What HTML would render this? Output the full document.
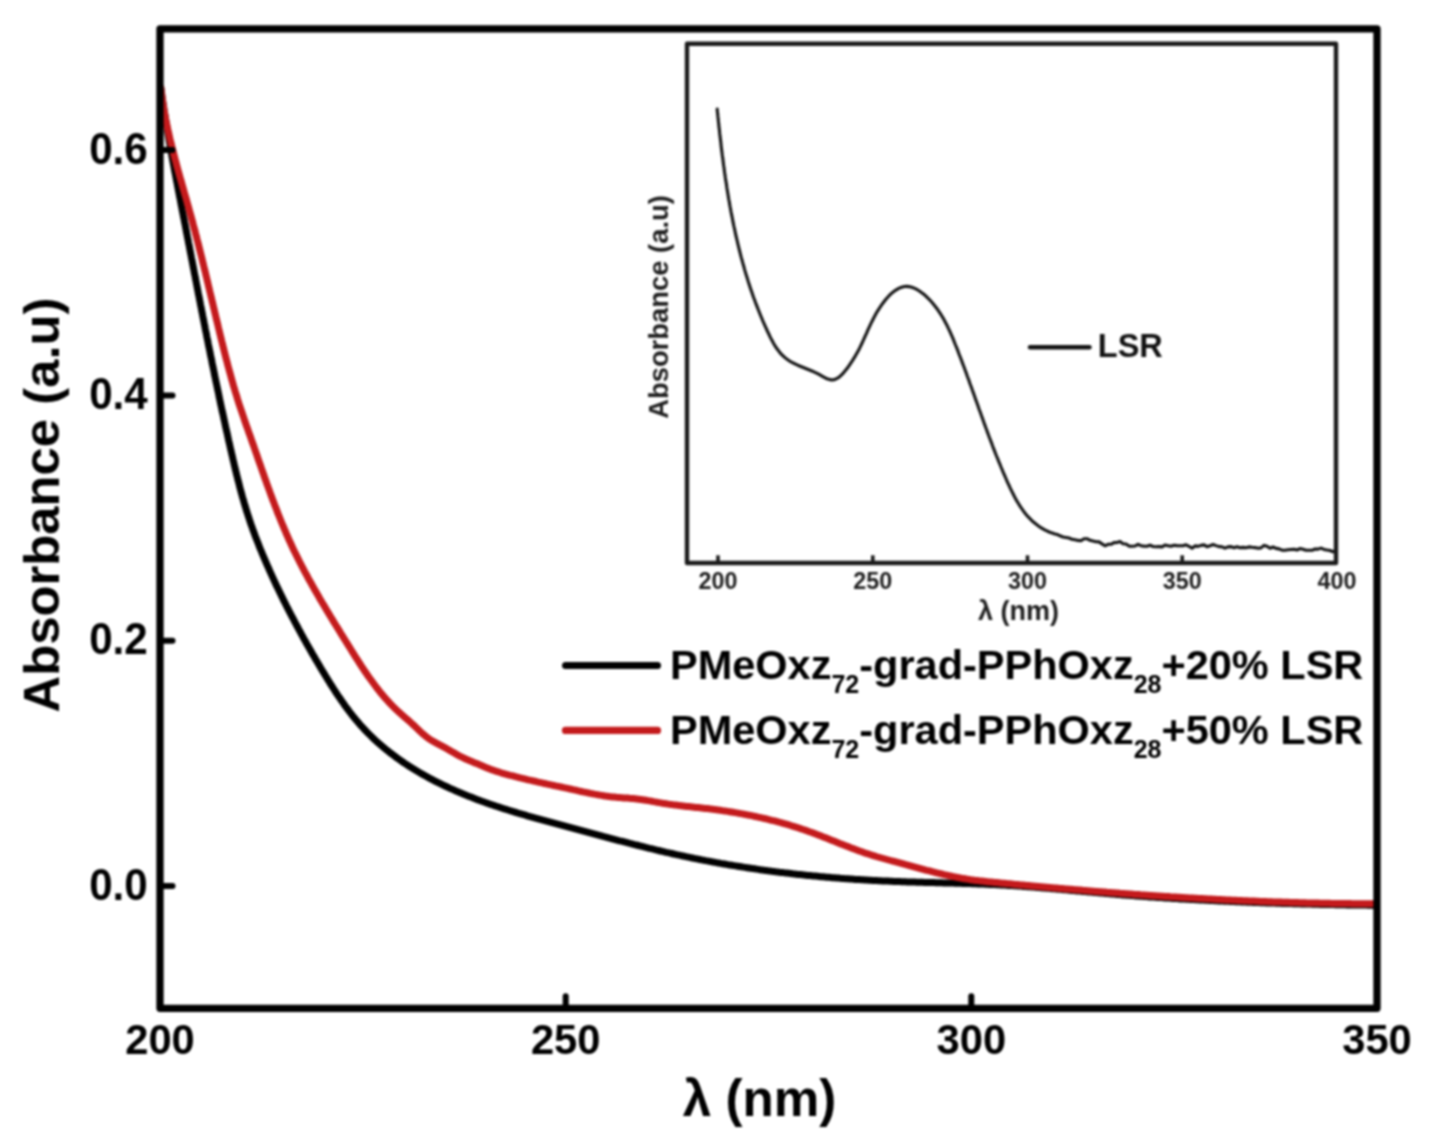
<!DOCTYPE html><html><head><meta charset="utf-8"><style>html,body{margin:0;padding:0;background:#fff;width:1433px;height:1146px;overflow:hidden}svg{display:block;filter:blur(0.9px)}text{font-family:"Liberation Sans",sans-serif;font-weight:bold}</style></head><body>
<svg width="1433" height="1146" viewBox="0 0 1433 1146">
<rect width="1433" height="1146" fill="#fff"/>
<polyline points="160.8,88.0 161.0,89.9 161.3,91.8 161.6,93.7 161.8,95.6 162.1,97.4 162.4,99.3 162.7,101.2 163.0,103.1 163.3,105.0 163.6,106.9 163.8,108.8 164.1,110.7 164.4,112.6 164.8,114.5 165.1,116.4 165.4,118.3 165.7,120.2 166.0,122.1 166.3,123.9 166.6,125.8 166.9,127.7 167.3,129.6 167.6,131.5 167.9,133.4 168.2,135.3 168.6,137.2 168.9,139.1 169.2,140.9 169.6,142.8 169.9,144.7 170.2,146.6 170.6,148.5 170.9,150.4 171.3,152.3 171.6,154.1 171.9,156.0 172.3,157.9 172.6,159.8 173.0,161.7 173.3,163.6 173.7,165.4 174.0,167.3 174.4,169.2 174.7,171.1 175.1,173.0 175.5,174.9 175.8,176.7 176.2,178.6 176.5,180.5 176.9,182.4 177.3,184.3 177.6,186.1 178.0,188.0 178.3,189.9 178.7,191.8 179.1,193.7 179.4,195.6 179.8,197.4 180.2,199.3 180.5,201.2 180.9,203.1 181.2,205.0 181.6,206.8 182.0,208.7 182.3,210.6 182.7,212.5 183.1,214.4 183.4,216.2 183.8,218.1 184.2,220.0 184.5,221.9 184.9,223.8 185.3,225.6 185.6,227.5 186.0,229.4 186.3,231.3 186.7,233.2 187.1,235.1 187.4,236.9 187.8,238.8 188.2,240.7 188.5,242.6 188.9,244.5 189.3,246.3 189.6,248.2 190.0,250.1 190.3,252.0 190.7,253.9 191.1,255.7 191.4,257.6 191.8,259.5 192.2,261.4 192.5,263.3 192.9,265.1 193.2,267.0 193.6,268.9 194.0,270.8 194.3,272.7 194.7,274.5 195.1,276.4 195.4,278.3 195.8,280.2 196.2,282.1 196.5,284.0 196.9,285.8 197.2,287.7 197.6,289.6 198.0,291.5 198.3,293.4 198.7,295.2 199.1,297.1 199.4,299.0 199.8,300.9 200.2,302.8 200.5,304.6 200.9,306.5 201.3,308.4 201.6,310.3 202.0,312.2 202.4,314.0 202.7,315.9 203.1,317.8 203.5,319.7 203.9,321.6 204.2,323.4 204.6,325.3 205.0,327.2 205.3,329.1 205.7,331.0 206.1,332.8 206.5,334.7 206.8,336.6 207.2,338.5 207.6,340.3 208.0,342.2 208.3,344.1 208.7,346.0 209.1,347.9 209.5,349.7 209.9,351.6 210.2,353.5 210.6,355.4 211.0,357.3 211.4,359.1 211.8,361.0 212.1,362.9 212.5,364.8 212.9,366.6 213.3,368.5 213.7,370.4 214.1,372.3 214.4,374.2 214.8,376.0 215.2,377.9 215.6,379.8 216.0,381.7 216.4,383.5 216.8,385.4 217.2,387.3 217.6,389.2 218.0,391.0 218.4,392.9 218.8,394.8 219.1,396.7 219.5,398.5 219.9,400.4 220.3,402.3 220.7,404.2 221.1,406.0 221.5,407.9 221.9,409.8 222.3,411.7 222.8,413.5 223.2,415.4 223.6,417.3 224.0,419.2 224.4,421.0 224.8,422.9 225.2,424.8 225.6,426.7 226.0,428.5 226.4,430.4 226.9,432.3 227.3,434.1 227.7,436.0 228.1,437.9 228.5,439.8 228.9,441.6 229.4,443.5 229.8,445.4 230.2,447.2 230.6,449.1 231.1,451.0 231.5,452.9 231.9,454.7 232.4,456.6 232.8,458.5 233.2,460.3 233.7,462.2 234.1,464.1 234.5,465.9 235.0,467.8 235.4,469.7 235.9,471.5 236.3,473.4 236.8,475.3 237.3,477.1 237.7,479.0 238.2,480.8 238.7,482.7 239.2,484.6 239.6,486.4 240.1,488.3 240.6,490.1 241.1,492.0 241.6,493.8 242.1,495.7 242.6,497.5 243.2,499.3 243.7,501.2 244.2,503.0 244.8,504.9 245.3,506.7 245.9,508.5 246.4,510.4 247.0,512.2 247.6,514.0 248.2,515.8 248.8,517.6 249.4,519.5 250.0,521.3 250.6,523.1 251.2,524.9 251.9,526.7 252.5,528.5 253.1,530.3 253.8,532.1 254.5,533.9 255.1,535.7 255.8,537.5 256.5,539.3 257.2,541.0 257.9,542.8 258.6,544.6 259.3,546.4 260.0,548.2 260.7,549.9 261.5,551.7 262.2,553.5 262.9,555.2 263.7,557.0 264.4,558.8 265.2,560.5 265.9,562.3 266.7,564.0 267.5,565.8 268.3,567.5 269.0,569.3 269.8,571.0 270.6,572.8 271.4,574.5 272.2,576.3 273.0,578.0 273.8,579.8 274.6,581.5 275.4,583.2 276.2,585.0 277.0,586.7 277.9,588.4 278.7,590.1 279.5,591.9 280.4,593.6 281.2,595.3 282.1,597.0 282.9,598.7 283.7,600.5 284.6,602.2 285.5,603.9 286.3,605.6 287.2,607.3 288.1,609.0 288.9,610.7 289.8,612.4 290.7,614.1 291.6,615.8 292.5,617.5 293.4,619.2 294.3,620.9 295.1,622.6 296.1,624.3 297.0,626.0 297.9,627.7 298.8,629.4 299.7,631.0 300.6,632.7 301.5,634.4 302.5,636.1 303.4,637.8 304.3,639.5 305.3,641.1 306.2,642.8 307.1,644.5 308.1,646.1 309.0,647.8 310.0,649.5 310.9,651.2 311.9,652.8 312.8,654.5 313.8,656.1 314.8,657.8 315.7,659.5 316.7,661.1 317.7,662.8 318.7,664.4 319.6,666.1 320.6,667.8 321.6,669.4 322.6,671.1 323.6,672.7 324.6,674.3 325.6,676.0 326.6,677.6 327.6,679.3 328.6,680.9 329.6,682.5 330.6,684.2 331.7,685.8 332.7,687.4 333.7,689.0 334.8,690.7 335.8,692.3 336.9,693.9 337.9,695.5 339.0,697.0 340.1,698.6 341.2,700.2 342.3,701.8 343.4,703.3 344.5,704.9 345.6,706.5 346.7,708.0 347.9,709.5 349.0,711.1 350.2,712.6 351.4,714.1 352.5,715.6 353.7,717.1 354.9,718.5 356.1,720.0 357.4,721.5 358.6,722.9 359.8,724.4 361.1,725.8 362.4,727.2 363.7,728.6 365.0,730.0 366.3,731.4 367.6,732.7 369.0,734.1 370.3,735.4 371.7,736.8 373.0,738.1 374.4,739.4 375.8,740.7 377.2,742.0 378.7,743.2 380.1,744.5 381.6,745.7 383.0,747.0 384.5,748.2 385.9,749.4 387.4,750.6 388.9,751.8 390.4,753.0 392.0,754.1 393.5,755.3 395.0,756.4 396.6,757.6 398.1,758.7 399.7,759.8 401.2,760.9 402.8,762.0 404.4,763.1 406.0,764.1 407.6,765.2 409.2,766.2 410.8,767.2 412.4,768.3 414.1,769.3 415.7,770.3 417.4,771.3 419.0,772.2 420.7,773.2 422.3,774.2 424.0,775.1 425.7,776.0 427.4,777.0 429.0,777.9 430.7,778.8 432.4,779.7 434.1,780.6 435.9,781.5 437.6,782.3 439.3,783.2 441.0,784.0 442.7,784.9 444.5,785.7 446.2,786.5 448.0,787.3 449.7,788.2 451.5,788.9 453.2,789.7 455.0,790.5 456.7,791.3 458.5,792.0 460.3,792.8 462.1,793.5 463.8,794.3 465.6,795.0 467.4,795.7 469.2,796.4 471.0,797.1 472.7,797.8 474.5,798.5 476.3,799.2 478.1,799.9 479.9,800.5 481.7,801.2 483.5,801.8 485.3,802.5 487.1,803.1 488.9,803.7 490.7,804.4 492.6,805.0 494.4,805.6 496.2,806.2 498.0,806.8 499.8,807.4 501.6,808.0 503.5,808.6 505.3,809.2 507.1,809.7 508.9,810.3 510.8,810.9 512.6,811.4 514.4,812.0 516.3,812.5 518.1,813.1 519.9,813.6 521.8,814.2 523.6,814.7 525.4,815.2 527.3,815.8 529.1,816.3 531.0,816.8 532.8,817.3 534.6,817.9 536.5,818.4 538.3,818.9 540.2,819.4 542.0,819.9 543.9,820.4 545.7,820.9 547.6,821.4 549.4,821.9 551.3,822.4 553.1,822.9 555.0,823.4 556.8,823.9 558.7,824.4 560.5,824.9 562.4,825.4 564.2,825.9 566.1,826.4 567.9,826.9 569.8,827.4 571.6,827.9 573.5,828.4 575.3,828.9 577.2,829.4 579.0,829.9 580.9,830.4 582.7,830.9 584.6,831.4 586.4,831.9 588.3,832.4 590.1,832.9 592.0,833.4 593.8,833.9 595.7,834.4 597.5,834.9 599.4,835.4 601.2,835.9 603.1,836.4 604.9,836.8 606.8,837.3 608.6,837.8 610.5,838.3 612.3,838.8 614.2,839.3 616.0,839.8 617.9,840.3 619.7,840.8 621.6,841.2 623.4,841.7 625.3,842.2 627.2,842.7 629.0,843.2 630.9,843.6 632.7,844.1 634.6,844.6 636.4,845.0 638.3,845.5 640.1,846.0 642.0,846.4 643.9,846.9 645.7,847.4 647.6,847.8 649.4,848.3 651.3,848.7 653.2,849.2 655.0,849.6 656.9,850.1 658.7,850.5 660.6,851.0 662.5,851.4 664.3,851.8 666.2,852.3 668.1,852.7 669.9,853.1 671.8,853.5 673.7,854.0 675.5,854.4 677.4,854.8 679.3,855.2 681.1,855.6 683.0,856.0 684.9,856.4 686.8,856.8 688.6,857.2 690.5,857.6 692.4,858.0 694.2,858.4 696.1,858.7 698.0,859.1 699.9,859.5 701.8,859.9 703.6,860.2 705.5,860.6 707.4,860.9 709.3,861.3 711.2,861.6 713.0,862.0 714.9,862.3 716.8,862.7 718.7,863.0 720.6,863.4 722.5,863.7 724.3,864.0 726.2,864.3 728.1,864.7 730.0,865.0 731.9,865.3 733.8,865.6 735.7,865.9 737.6,866.2 739.5,866.5 741.3,866.8 743.2,867.1 745.1,867.4 747.0,867.7 748.9,868.0 750.8,868.3 752.7,868.6 754.6,868.8 756.5,869.1 758.4,869.4 760.3,869.7 762.2,869.9 764.1,870.2 766.0,870.4 767.9,870.7 769.8,870.9 771.7,871.2 773.6,871.4 775.5,871.7 777.4,871.9 779.3,872.2 781.2,872.4 783.1,872.6 785.0,872.9 786.9,873.1 788.8,873.3 790.7,873.5 792.6,873.8 794.5,874.0 796.4,874.2 798.3,874.4 800.2,874.6 802.1,874.8 804.0,875.0 805.9,875.2 807.8,875.4 809.7,875.6 811.6,875.8 813.5,876.0 815.5,876.1 817.4,876.3 819.3,876.5 821.2,876.7 823.1,876.8 825.0,877.0 826.9,877.2 828.8,877.3 830.7,877.5 832.6,877.7 834.5,877.8 836.5,878.0 838.4,878.1 840.3,878.3 842.2,878.4 844.1,878.6 846.0,878.7 847.9,878.8 849.8,879.0 851.7,879.1 853.7,879.2 855.6,879.4 857.5,879.5 859.4,879.6 861.3,879.7 863.2,879.8 865.1,880.0 867.0,880.1 869.0,880.2 870.9,880.3 872.8,880.4 874.7,880.5 876.6,880.6 878.5,880.7 880.4,880.8 882.4,880.9 884.3,881.0 886.2,881.0 888.1,881.1 890.0,881.2 891.9,881.3 893.8,881.4 895.8,881.4 897.7,881.5 899.6,881.6 901.5,881.7 903.4,881.7 905.3,881.8 907.2,881.9 909.1,881.9 911.1,882.0 913.0,882.0 914.9,882.1 916.8,882.2 918.7,882.2 920.6,882.3 922.5,882.3 924.5,882.4 926.4,882.4 928.3,882.5 930.2,882.5 932.1,882.6 934.0,882.6 935.9,882.7 937.9,882.7 939.8,882.8 941.7,882.8 943.6,882.9 945.5,882.9 947.4,883.0 949.3,883.0 951.3,883.1 953.2,883.1 955.1,883.2 957.0,883.2 958.9,883.3 960.8,883.3 962.7,883.4 964.6,883.5 966.6,883.5 968.5,883.6 970.4,883.6 972.3,883.7 974.2,883.8 976.1,883.8 978.0,883.9 979.9,884.0 981.9,884.1 983.8,884.1 985.7,884.2 987.6,884.3 989.5,884.4 991.4,884.5 993.3,884.5 995.2,884.6 997.2,884.7 999.1,884.8 1001.0,884.9 1002.9,885.0 1004.8,885.1 1006.7,885.2 1008.6,885.4 1010.5,885.5 1012.4,885.6 1014.3,885.7 1016.3,885.8 1018.2,886.0 1020.1,886.1 1022.0,886.2 1023.9,886.4 1025.8,886.5 1027.7,886.7 1029.6,886.8 1031.5,886.9 1033.4,887.1 1035.4,887.2 1037.3,887.4 1039.2,887.5 1041.1,887.7 1043.0,887.9 1044.9,888.0 1046.8,888.2 1048.7,888.3 1050.6,888.5 1052.5,888.7 1054.4,888.8 1056.3,889.0 1058.3,889.2 1060.2,889.3 1062.1,889.5 1064.0,889.7 1065.9,889.8 1067.8,890.0 1069.7,890.2 1071.6,890.4 1073.5,890.5 1075.4,890.7 1077.3,890.9 1079.3,891.1 1081.2,891.2 1083.1,891.4 1085.0,891.6 1086.9,891.7 1088.8,891.9 1090.7,892.1 1092.6,892.3 1094.5,892.4 1096.4,892.6 1098.3,892.8 1100.3,892.9 1102.2,893.1 1104.1,893.3 1106.0,893.4 1107.9,893.6 1109.8,893.8 1111.7,893.9 1113.6,894.1 1115.5,894.2 1117.4,894.4 1119.3,894.6 1121.3,894.7 1123.2,894.9 1125.1,895.0 1127.0,895.2 1128.9,895.3 1130.8,895.5 1132.7,895.6 1134.6,895.8 1136.5,895.9 1138.5,896.0 1140.4,896.2 1142.3,896.3 1144.2,896.5 1146.1,896.6 1148.0,896.7 1149.9,896.9 1151.8,897.0 1153.7,897.1 1155.7,897.3 1157.6,897.4 1159.5,897.5 1161.4,897.6 1163.3,897.8 1165.2,897.9 1167.1,898.0 1169.0,898.1 1171.0,898.3 1172.9,898.4 1174.8,898.5 1176.7,898.6 1178.6,898.7 1180.5,898.9 1182.4,899.0 1184.4,899.1 1186.3,899.2 1188.2,899.3 1190.1,899.4 1192.0,899.5 1193.9,899.6 1195.8,899.7 1197.7,899.8 1199.7,899.9 1201.6,900.0 1203.5,900.1 1205.4,900.2 1207.3,900.3 1209.2,900.4 1211.1,900.5 1213.1,900.6 1215.0,900.7 1216.9,900.8 1218.8,900.9 1220.7,901.0 1222.6,901.1 1224.5,901.2 1226.5,901.3 1228.4,901.3 1230.3,901.4 1232.2,901.5 1234.1,901.6 1236.0,901.7 1237.9,901.8 1239.9,901.8 1241.8,901.9 1243.7,902.0 1245.6,902.1 1247.5,902.2 1249.4,902.2 1251.4,902.3 1253.3,902.4 1255.2,902.4 1257.1,902.5 1259.0,902.6 1260.9,902.7 1262.8,902.7 1264.8,902.8 1266.7,902.9 1268.6,902.9 1270.5,903.0 1272.4,903.1 1274.3,903.1 1276.3,903.2 1278.2,903.2 1280.1,903.3 1282.0,903.4 1283.9,903.4 1285.8,903.5 1287.8,903.5 1289.7,903.6 1291.6,903.6 1293.5,903.7 1295.4,903.7 1297.3,903.8 1299.3,903.8 1301.2,903.9 1303.1,903.9 1305.0,904.0 1306.9,904.0 1308.8,904.1 1310.7,904.1 1312.7,904.2 1314.6,904.2 1316.5,904.3 1318.4,904.3 1320.3,904.4 1322.2,904.4 1324.2,904.4 1326.1,904.5 1328.0,904.5 1329.9,904.6 1331.8,904.6 1333.7,904.6 1335.7,904.7 1337.6,904.7 1339.5,904.7 1341.4,904.8 1343.3,904.8 1345.2,904.8 1347.2,904.9 1349.1,904.9 1351.0,904.9 1352.9,904.9 1354.8,905.0 1356.8,905.0 1358.7,905.0 1360.6,905.1 1362.5,905.1 1364.4,905.1 1366.3,905.1 1368.3,905.2 1370.2,905.2 1372.1,905.2 1374.0,905.2" fill="none" stroke="#000" stroke-width="7" stroke-linejoin="round" stroke-linecap="round"/>
<polyline points="160.8,87.9 161.1,89.8 161.3,91.7 161.5,93.5 161.8,95.4 162.0,97.3 162.3,99.1 162.5,101.0 162.8,102.8 163.1,104.7 163.4,106.5 163.7,108.4 164.0,110.2 164.4,112.1 164.7,113.9 165.0,115.8 165.4,117.6 165.7,119.4 166.1,121.3 166.5,123.1 166.9,125.0 167.3,126.8 167.6,128.6 168.0,130.4 168.5,132.3 168.9,134.1 169.3,135.9 169.7,137.8 170.1,139.6 170.6,141.4 171.0,143.2 171.5,145.0 171.9,146.9 172.4,148.7 172.8,150.5 173.3,152.3 173.8,154.1 174.2,155.9 174.7,157.7 175.2,159.6 175.7,161.4 176.2,163.2 176.6,165.0 177.1,166.8 177.6,168.6 178.1,170.4 178.6,172.2 179.1,174.0 179.6,175.8 180.1,177.6 180.6,179.4 181.2,181.2 181.7,183.1 182.2,184.9 182.7,186.7 183.2,188.5 183.7,190.3 184.2,192.1 184.7,193.9 185.2,195.7 185.8,197.5 186.3,199.3 186.8,201.1 187.3,202.9 187.8,204.7 188.3,206.5 188.8,208.3 189.3,210.1 189.8,211.9 190.3,213.7 190.8,215.5 191.3,217.3 191.8,219.2 192.3,221.0 192.8,222.8 193.2,224.6 193.7,226.4 194.2,228.2 194.7,230.0 195.2,231.8 195.6,233.6 196.1,235.5 196.6,237.3 197.0,239.1 197.5,240.9 198.0,242.7 198.4,244.5 198.9,246.3 199.3,248.2 199.8,250.0 200.2,251.8 200.7,253.6 201.2,255.4 201.6,257.2 202.1,259.1 202.5,260.9 202.9,262.7 203.4,264.5 203.8,266.3 204.3,268.2 204.7,270.0 205.2,271.8 205.6,273.6 206.0,275.4 206.5,277.3 206.9,279.1 207.3,280.9 207.8,282.7 208.2,284.5 208.6,286.4 209.1,288.2 209.5,290.0 209.9,291.8 210.4,293.7 210.8,295.5 211.2,297.3 211.7,299.1 212.1,301.0 212.5,302.8 213.0,304.6 213.4,306.4 213.8,308.3 214.3,310.1 214.7,311.9 215.1,313.7 215.6,315.6 216.0,317.4 216.4,319.2 216.9,321.0 217.3,322.9 217.8,324.7 218.2,326.5 218.6,328.3 219.1,330.2 219.5,332.0 219.9,333.8 220.4,335.6 220.8,337.5 221.3,339.3 221.7,341.1 222.2,342.9 222.6,344.8 223.1,346.6 223.5,348.4 224.0,350.2 224.4,352.0 224.9,353.9 225.4,355.7 225.8,357.5 226.3,359.3 226.8,361.1 227.3,363.0 227.7,364.8 228.2,366.6 228.7,368.4 229.2,370.2 229.7,372.0 230.2,373.8 230.7,375.6 231.2,377.5 231.7,379.3 232.2,381.1 232.7,382.9 233.2,384.7 233.7,386.5 234.3,388.3 234.8,390.1 235.3,391.8 235.9,393.6 236.4,395.4 237.0,397.2 237.5,399.0 238.1,400.8 238.6,402.6 239.2,404.3 239.8,406.1 240.4,407.9 241.0,409.7 241.6,411.4 242.2,413.2 242.8,415.0 243.4,416.7 244.0,418.5 244.6,420.3 245.2,422.0 245.8,423.8 246.4,425.5 247.0,427.3 247.7,429.1 248.3,430.8 248.9,432.6 249.5,434.3 250.2,436.1 250.8,437.9 251.4,439.6 252.0,441.4 252.6,443.2 253.3,444.9 253.9,446.7 254.5,448.5 255.1,450.2 255.7,452.0 256.4,453.8 257.0,455.5 257.6,457.3 258.2,459.1 258.8,460.9 259.4,462.6 260.1,464.4 260.7,466.2 261.3,468.0 261.9,469.7 262.5,471.5 263.2,473.3 263.8,475.0 264.4,476.8 265.0,478.6 265.7,480.4 266.3,482.1 266.9,483.9 267.6,485.7 268.2,487.4 268.9,489.2 269.5,491.0 270.1,492.7 270.8,494.5 271.4,496.3 272.1,498.0 272.7,499.8 273.4,501.5 274.1,503.3 274.7,505.0 275.4,506.8 276.1,508.6 276.8,510.3 277.4,512.1 278.1,513.8 278.8,515.5 279.5,517.3 280.2,519.0 280.9,520.8 281.6,522.5 282.3,524.2 283.1,526.0 283.8,527.7 284.5,529.4 285.3,531.1 286.0,532.9 286.7,534.6 287.5,536.3 288.2,538.0 289.0,539.7 289.8,541.4 290.6,543.1 291.3,544.8 292.1,546.5 292.9,548.2 293.7,549.9 294.5,551.6 295.4,553.2 296.2,554.9 297.0,556.6 297.8,558.3 298.7,559.9 299.5,561.6 300.4,563.3 301.2,564.9 302.1,566.6 302.9,568.2 303.8,569.9 304.7,571.6 305.6,573.2 306.5,574.8 307.4,576.5 308.2,578.1 309.1,579.8 310.0,581.4 311.0,583.0 311.9,584.7 312.8,586.3 313.7,587.9 314.6,589.6 315.6,591.2 316.5,592.8 317.4,594.4 318.4,596.0 319.3,597.7 320.2,599.3 321.2,600.9 322.1,602.5 323.1,604.1 324.1,605.7 325.0,607.3 326.0,609.0 326.9,610.6 327.9,612.2 328.9,613.8 329.8,615.4 330.8,617.0 331.8,618.6 332.8,620.2 333.7,621.8 334.7,623.4 335.7,625.0 336.7,626.6 337.7,628.2 338.7,629.8 339.7,631.4 340.6,633.0 341.6,634.6 342.6,636.2 343.6,637.8 344.6,639.4 345.6,641.0 346.6,642.6 347.6,644.2 348.6,645.8 349.6,647.4 350.6,649.0 351.5,650.5 352.5,652.1 353.5,653.7 354.5,655.3 355.5,656.9 356.5,658.5 357.6,660.1 358.6,661.7 359.6,663.3 360.6,664.8 361.6,666.4 362.7,668.0 363.7,669.5 364.7,671.1 365.8,672.6 366.9,674.2 367.9,675.7 369.0,677.3 370.1,678.8 371.2,680.3 372.3,681.8 373.4,683.3 374.5,684.8 375.6,686.3 376.7,687.8 377.9,689.3 379.0,690.7 380.2,692.2 381.4,693.6 382.6,695.0 383.8,696.5 385.0,697.9 386.2,699.3 387.5,700.6 388.7,702.0 390.0,703.4 391.3,704.7 392.6,706.1 393.9,707.4 395.3,708.7 396.6,710.0 398.0,711.3 399.4,712.5 400.8,713.8 402.2,715.0 403.6,716.3 405.0,717.5 406.4,718.8 407.9,720.0 409.3,721.2 410.7,722.5 412.1,723.8 413.5,725.0 414.8,726.3 416.2,727.6 417.5,728.9 418.9,730.2 420.2,731.5 421.6,732.8 423.0,734.0 424.4,735.2 425.8,736.4 427.3,737.5 428.8,738.6 430.3,739.6 431.9,740.6 433.5,741.5 435.1,742.4 436.7,743.3 438.4,744.2 440.1,745.1 441.7,745.9 443.4,746.8 445.0,747.7 446.7,748.6 448.3,749.6 449.9,750.5 451.5,751.5 453.2,752.4 454.8,753.3 456.4,754.3 458.1,755.2 459.7,756.1 461.4,756.9 463.0,757.7 464.7,758.5 466.4,759.3 468.1,760.0 469.9,760.7 471.6,761.4 473.3,762.2 475.0,762.9 476.8,763.6 478.5,764.3 480.2,765.0 481.9,765.7 483.6,766.5 485.4,767.2 487.1,767.9 488.8,768.6 490.5,769.2 492.3,769.9 494.0,770.5 495.8,771.1 497.6,771.7 499.3,772.2 501.1,772.8 502.9,773.3 504.7,773.8 506.5,774.3 508.3,774.8 510.1,775.3 511.9,775.7 513.7,776.2 515.5,776.7 517.3,777.1 519.2,777.6 521.0,778.0 522.8,778.5 524.6,778.9 526.4,779.3 528.2,779.8 530.0,780.2 531.9,780.6 533.7,781.0 535.5,781.4 537.3,781.9 539.2,782.3 541.0,782.7 542.8,783.1 544.6,783.5 546.5,783.9 548.3,784.3 550.1,784.7 552.0,785.1 553.8,785.5 555.6,785.9 557.4,786.2 559.3,786.6 561.1,787.0 562.9,787.4 564.8,787.8 566.6,788.2 568.5,788.6 570.3,789.0 572.1,789.4 574.0,789.8 575.8,790.2 577.6,790.7 579.5,791.1 581.3,791.5 583.1,791.9 585.0,792.2 586.8,792.6 588.7,793.0 590.5,793.4 592.3,793.7 594.2,794.1 596.0,794.4 597.9,794.8 599.7,795.1 601.6,795.4 603.4,795.7 605.3,796.0 607.1,796.2 609.0,796.5 610.8,796.7 612.7,796.9 614.5,797.1 616.4,797.3 618.3,797.4 620.1,797.6 622.0,797.7 623.9,797.9 625.7,798.0 627.6,798.1 629.4,798.3 631.3,798.4 633.2,798.6 635.0,798.8 636.9,799.0 638.7,799.2 640.6,799.4 642.4,799.7 644.3,800.0 646.1,800.3 647.9,800.6 649.8,800.9 651.6,801.2 653.5,801.6 655.3,801.9 657.1,802.3 659.0,802.6 660.8,802.9 662.7,803.3 664.5,803.6 666.3,803.8 668.2,804.1 670.0,804.4 671.9,804.6 673.8,804.9 675.6,805.1 677.5,805.3 679.3,805.6 681.2,805.8 683.0,806.0 684.9,806.2 686.8,806.4 688.6,806.6 690.5,806.8 692.4,807.0 694.2,807.2 696.1,807.4 698.0,807.6 699.8,807.8 701.7,808.0 703.5,808.2 705.4,808.4 707.3,808.6 709.1,808.8 711.0,809.1 712.8,809.3 714.7,809.6 716.6,809.8 718.4,810.1 720.3,810.3 722.1,810.6 724.0,810.9 725.8,811.1 727.7,811.4 729.5,811.7 731.4,812.0 733.2,812.3 735.1,812.6 736.9,812.9 738.8,813.3 740.6,813.6 742.5,813.9 744.3,814.3 746.1,814.6 748.0,815.0 749.8,815.3 751.7,815.7 753.5,816.1 755.3,816.5 757.2,816.9 759.0,817.3 760.8,817.7 762.6,818.1 764.5,818.5 766.3,818.9 768.1,819.4 769.9,819.8 771.7,820.3 773.5,820.7 775.4,821.2 777.2,821.7 779.0,822.2 780.8,822.6 782.6,823.1 784.4,823.7 786.2,824.2 788.0,824.7 789.8,825.2 791.6,825.8 793.4,826.3 795.1,826.9 796.9,827.4 798.7,828.0 800.5,828.6 802.3,829.2 804.0,829.8 805.8,830.4 807.6,831.0 809.3,831.7 811.1,832.3 812.9,832.9 814.6,833.6 816.4,834.3 818.1,834.9 819.9,835.6 821.6,836.3 823.4,837.0 825.1,837.6 826.9,838.3 828.6,839.0 830.4,839.7 832.1,840.4 833.9,841.1 835.6,841.8 837.3,842.5 839.1,843.2 840.8,843.9 842.6,844.6 844.3,845.3 846.1,845.9 847.8,846.6 849.6,847.3 851.3,848.0 853.1,848.6 854.8,849.3 856.6,849.9 858.3,850.6 860.1,851.2 861.9,851.8 863.6,852.5 865.4,853.1 867.2,853.7 869.0,854.2 870.7,854.8 872.5,855.4 874.3,855.9 876.1,856.5 877.9,857.0 879.7,857.5 881.5,858.0 883.3,858.5 885.1,859.0 886.9,859.5 888.7,860.0 890.5,860.5 892.3,861.0 894.1,861.4 895.9,861.9 897.8,862.4 899.6,862.9 901.4,863.4 903.2,863.9 905.0,864.4 906.8,864.8 908.6,865.3 910.4,865.8 912.2,866.3 914.0,866.8 915.9,867.3 917.7,867.8 919.5,868.3 921.3,868.8 923.1,869.3 924.9,869.8 926.7,870.3 928.5,870.7 930.3,871.2 932.2,871.7 934.0,872.1 935.8,872.6 937.6,873.0 939.4,873.5 941.3,873.9 943.1,874.4 944.9,874.8 946.7,875.2 948.6,875.6 950.4,876.0 952.2,876.4 954.0,876.8 955.9,877.1 957.7,877.5 959.6,877.8 961.4,878.2 963.2,878.5 965.1,878.8 966.9,879.1 968.8,879.4 970.6,879.7 972.5,879.9 974.3,880.2 976.2,880.4 978.0,880.6 979.9,880.9 981.8,881.1 983.6,881.3 985.5,881.5 987.3,881.7 989.2,881.9 991.1,882.1 992.9,882.3 994.8,882.5 996.7,882.6 998.5,882.8 1000.4,883.0 1002.3,883.2 1004.1,883.3 1006.0,883.5 1007.9,883.7 1009.7,883.8 1011.6,884.0 1013.5,884.2 1015.3,884.4 1017.2,884.5 1019.1,884.7 1020.9,884.9 1022.8,885.0 1024.7,885.2 1026.5,885.4 1028.4,885.5 1030.3,885.7 1032.1,885.9 1034.0,886.1 1035.9,886.2 1037.7,886.4 1039.6,886.6 1041.5,886.7 1043.3,886.9 1045.2,887.1 1047.1,887.2 1048.9,887.4 1050.8,887.6 1052.7,887.7 1054.5,887.9 1056.4,888.0 1058.3,888.2 1060.1,888.4 1062.0,888.5 1063.9,888.7 1065.7,888.9 1067.6,889.0 1069.5,889.2 1071.3,889.3 1073.2,889.5 1075.1,889.7 1076.9,889.8 1078.8,890.0 1080.7,890.1 1082.5,890.3 1084.4,890.4 1086.3,890.6 1088.1,890.7 1090.0,890.9 1091.9,891.1 1093.7,891.2 1095.6,891.4 1097.5,891.5 1099.3,891.7 1101.2,891.8 1103.1,892.0 1104.9,892.1 1106.8,892.3 1108.7,892.4 1110.5,892.5 1112.4,892.7 1114.3,892.8 1116.1,893.0 1118.0,893.1 1119.9,893.3 1121.7,893.4 1123.6,893.5 1125.5,893.7 1127.3,893.8 1129.2,894.0 1131.1,894.1 1132.9,894.2 1134.8,894.4 1136.7,894.5 1138.6,894.6 1140.4,894.8 1142.3,894.9 1144.2,895.0 1146.0,895.2 1147.9,895.3 1149.8,895.4 1151.6,895.5 1153.5,895.7 1155.4,895.8 1157.2,895.9 1159.1,896.0 1161.0,896.2 1162.9,896.3 1164.7,896.4 1166.6,896.5 1168.5,896.6 1170.3,896.8 1172.2,896.9 1174.1,897.0 1175.9,897.1 1177.8,897.2 1179.7,897.3 1181.6,897.5 1183.4,897.6 1185.3,897.7 1187.2,897.8 1189.0,897.9 1190.9,898.0 1192.8,898.1 1194.7,898.2 1196.5,898.3 1198.4,898.4 1200.3,898.5 1202.1,898.6 1204.0,898.7 1205.9,898.8 1207.8,898.9 1209.6,899.0 1211.5,899.1 1213.4,899.2 1215.2,899.3 1217.1,899.4 1219.0,899.5 1220.9,899.6 1222.7,899.7 1224.6,899.8 1226.5,899.9 1228.3,900.0 1230.2,900.1 1232.1,900.2 1234.0,900.3 1235.8,900.3 1237.7,900.4 1239.6,900.5 1241.5,900.6 1243.3,900.7 1245.2,900.8 1247.1,900.8 1248.9,900.9 1250.8,901.0 1252.7,901.1 1254.6,901.1 1256.4,901.2 1258.3,901.3 1260.2,901.4 1262.1,901.4 1263.9,901.5 1265.8,901.6 1267.7,901.7 1269.6,901.7 1271.4,901.8 1273.3,901.9 1275.2,901.9 1277.0,902.0 1278.9,902.0 1280.8,902.1 1282.7,902.2 1284.5,902.2 1286.4,902.3 1288.3,902.3 1290.2,902.4 1292.0,902.5 1293.9,902.5 1295.8,902.6 1297.7,902.6 1299.5,902.7 1301.4,902.7 1303.3,902.8 1305.2,902.8 1307.0,902.9 1308.9,902.9 1310.8,903.0 1312.6,903.0 1314.5,903.0 1316.4,903.1 1318.3,903.1 1320.1,903.2 1322.0,903.2 1323.9,903.2 1325.8,903.3 1327.6,903.3 1329.5,903.3 1331.4,903.4 1333.3,903.4 1335.1,903.4 1337.0,903.5 1338.9,903.5 1340.8,903.5 1342.6,903.6 1344.5,903.6 1346.4,903.6 1348.3,903.6 1350.1,903.6 1352.0,903.7 1353.9,903.7 1355.8,903.7 1357.6,903.7 1359.5,903.7 1361.4,903.8 1363.3,903.8 1365.1,903.8 1367.0,903.8 1368.9,903.8 1370.8,903.8 1372.6,903.8 1374.5,903.8" fill="none" stroke="#c41a1c" stroke-width="7" stroke-linejoin="round" stroke-linecap="round"/>
<rect x="160" y="28.8" width="1217" height="979.5" fill="none" stroke="#000" stroke-width="7.3" stroke-linejoin="round"/>
<line x1="565.7" y1="1008.3" x2="565.7" y2="996.3" stroke="#000" stroke-width="6" stroke-linecap="round"/>
<line x1="971.3" y1="1008.3" x2="971.3" y2="996.3" stroke="#000" stroke-width="6" stroke-linecap="round"/>
<line x1="160" y1="886.0" x2="172.5" y2="886.0" stroke="#000" stroke-width="6" stroke-linecap="round"/>
<line x1="160" y1="640.7" x2="172.5" y2="640.7" stroke="#000" stroke-width="6" stroke-linecap="round"/>
<line x1="160" y1="395.4" x2="172.5" y2="395.4" stroke="#000" stroke-width="6" stroke-linecap="round"/>
<line x1="160" y1="150.1" x2="172.5" y2="150.1" stroke="#000" stroke-width="6" stroke-linecap="round"/>
<text transform="translate(160.0,1053.8) scale(0.97,1)" font-size="43" text-anchor="middle">200</text>
<text transform="translate(565.7,1053.8) scale(0.97,1)" font-size="43" text-anchor="middle">250</text>
<text transform="translate(971.3,1053.8) scale(0.97,1)" font-size="43" text-anchor="middle">300</text>
<text transform="translate(1377.0,1053.8) scale(0.97,1)" font-size="43" text-anchor="middle">350</text>
<text transform="translate(147.8,899.5) scale(0.97,1)" font-size="43.5" text-anchor="end">0.0</text>
<text transform="translate(147.8,654.2) scale(0.97,1)" font-size="43.5" text-anchor="end">0.2</text>
<text transform="translate(147.8,408.9) scale(0.97,1)" font-size="43.5" text-anchor="end">0.4</text>
<text transform="translate(147.8,163.6) scale(0.97,1)" font-size="43.5" text-anchor="end">0.6</text>
<text transform="translate(58.8,505) rotate(-90)" font-size="50.8" text-anchor="middle">Absorbance (a.u)</text>
<text x="759.5" y="1115.5" font-size="51.2" text-anchor="middle">&#955; (nm)</text>
<line x1="565.5" y1="665.6" x2="657.5" y2="665.6" stroke="#000" stroke-width="7" stroke-linecap="round"/>
<line x1="565.5" y1="730.4" x2="657.5" y2="730.4" stroke="#c41a1c" stroke-width="7.2" stroke-linecap="round"/>
<text x="670" y="679.3" font-size="41.5">PMeOxz<tspan font-size="25" dy="14">72</tspan><tspan dy="-14">-grad-PPhOxz</tspan><tspan font-size="25" dy="14">28</tspan><tspan dy="-14">+20% LSR</tspan></text>
<text x="670" y="743.8" font-size="41.5">PMeOxz<tspan font-size="25" dy="14">72</tspan><tspan dy="-14">-grad-PPhOxz</tspan><tspan font-size="25" dy="14">28</tspan><tspan dy="-14">+50% LSR</tspan></text>
<polyline points="717.2,109.1 717.4,111.5 717.7,113.9 717.9,116.4 718.2,118.8 718.4,121.2 718.7,123.6 718.9,126.1 719.2,128.5 719.5,130.9 719.7,133.4 720.0,135.8 720.3,138.3 720.6,140.7 720.9,143.1 721.1,145.6 721.4,148.0 721.7,150.5 722.0,152.9 722.3,155.4 722.7,157.8 723.0,160.3 723.3,162.7 723.6,165.2 724.0,167.6 724.3,170.1 724.6,172.5 725.0,175.0 725.3,177.4 725.7,179.9 726.1,182.3 726.5,184.8 726.8,187.2 727.2,189.7 727.6,192.1 728.0,194.6 728.4,197.0 728.8,199.5 729.3,201.9 729.7,204.4 730.1,206.8 730.6,209.3 731.0,211.7 731.5,214.1 732.0,216.6 732.5,219.0 732.9,221.4 733.4,223.9 733.9,226.3 734.5,228.7 735.0,231.2 735.5,233.6 736.0,236.0 736.6,238.4 737.2,240.8 737.7,243.2 738.3,245.7 738.9,248.1 739.5,250.5 740.1,252.9 740.7,255.3 741.3,257.6 742.0,260.0 742.6,262.4 743.3,264.8 744.0,267.2 744.6,269.6 745.3,271.9 746.0,274.3 746.8,276.7 747.5,279.0 748.2,281.4 749.0,283.7 749.7,286.1 750.5,288.4 751.3,290.7 752.1,293.1 752.9,295.4 753.7,297.7 754.6,300.0 755.4,302.3 756.3,304.6 757.2,306.9 758.1,309.2 759.0,311.5 759.9,313.8 760.8,316.0 761.8,318.3 762.7,320.6 763.7,322.8 764.7,325.1 765.7,327.3 766.7,329.5 767.7,331.8 768.8,334.0 769.8,336.2 770.9,338.4 772.1,340.6 773.2,342.7 774.4,344.8 775.7,346.8 777.0,348.8 778.5,350.7 779.9,352.6 781.5,354.4 783.2,356.0 785.0,357.6 786.8,359.1 788.8,360.5 791.0,361.8 793.2,363.0 795.5,364.1 797.8,365.2 800.2,366.2 802.7,367.2 805.2,368.2 807.6,369.2 810.1,370.2 812.5,371.2 814.9,372.3 817.2,373.4 819.5,374.7 821.6,375.9 823.8,377.1 825.8,378.2 827.9,379.0 829.9,379.6 831.9,379.9 833.9,379.7 835.9,379.0 837.9,377.9 839.9,376.4 841.8,374.6 843.7,372.6 845.6,370.3 847.4,368.0 849.1,365.7 850.6,363.4 852.1,361.2 853.5,358.9 854.9,356.7 856.1,354.6 857.3,352.4 858.5,350.3 859.6,348.2 860.6,346.1 861.6,344.0 862.6,341.8 863.6,339.7 864.5,337.6 865.5,335.4 866.5,333.3 867.4,331.1 868.4,328.9 869.4,326.8 870.4,324.6 871.5,322.4 872.6,320.2 873.7,318.0 874.9,315.8 876.1,313.5 877.4,311.3 878.8,309.1 880.3,306.9 881.8,304.7 883.4,302.5 885.1,300.3 886.8,298.2 888.6,296.3 890.4,294.4 892.3,292.7 894.3,291.1 896.3,289.8 898.3,288.6 900.3,287.7 902.4,287.0 904.5,286.5 906.6,286.4 908.8,286.6 910.9,287.0 913.1,287.7 915.2,288.6 917.3,289.7 919.4,291.0 921.4,292.5 923.5,294.0 925.4,295.7 927.3,297.5 929.2,299.4 931.0,301.3 932.7,303.2 934.3,305.2 935.9,307.2 937.4,309.2 938.8,311.3 940.2,313.4 941.5,315.5 942.8,317.6 944.0,319.8 945.2,322.0 946.4,324.2 947.5,326.4 948.5,328.6 949.6,330.8 950.6,333.1 951.6,335.4 952.6,337.6 953.5,339.9 954.4,342.2 955.3,344.5 956.3,346.8 957.2,349.1 958.1,351.4 958.9,353.7 959.8,356.0 960.7,358.3 961.6,360.6 962.4,362.9 963.3,365.2 964.2,367.5 965.0,369.8 965.9,372.1 966.7,374.4 967.5,376.7 968.4,379.0 969.2,381.3 970.0,383.7 970.9,386.0 971.7,388.3 972.5,390.6 973.4,392.9 974.2,395.2 975.0,397.6 975.8,399.9 976.7,402.2 977.5,404.5 978.3,406.8 979.1,409.2 980.0,411.5 980.8,413.8 981.6,416.1 982.5,418.4 983.3,420.8 984.1,423.1 985.0,425.4 985.8,427.7 986.7,430.0 987.5,432.4 988.4,434.7 989.2,437.0 990.1,439.3 991.0,441.6 991.9,443.9 992.7,446.2 993.6,448.6 994.5,450.9 995.4,453.2 996.3,455.5 997.3,457.8 998.2,460.1 999.1,462.4 1000.1,464.7 1001.0,467.0 1002.0,469.3 1002.9,471.6 1003.9,473.9 1004.9,476.2 1005.9,478.5 1006.9,480.8 1007.9,483.1 1009.0,485.3 1010.0,487.6 1011.1,489.9 1012.2,492.1 1013.3,494.3 1014.4,496.5 1015.6,498.7 1016.8,500.9 1018.1,503.0 1019.4,505.1 1020.7,507.1 1022.1,509.1 1023.5,511.1 1024.9,513.0 1026.5,514.9 1028.0,516.7 1029.7,518.4 1031.4,520.1 1033.1,521.8 1035.0,523.3 1036.9,524.8 1038.8,526.2 1040.9,527.6 1043.0,528.9 1045.2,530.1 1047.5,531.2 1049.9,532.2 1052.3,533.1 1054.9,533.9 1057.5,534.6 1060.0,535.8 1063.0,537.0 1066.0,537.5 1069.0,538.0 1072.0,539.3 1075.0,539.8 1078.0,540.4 1081.0,540.7 1084.0,538.8 1087.0,538.7 1090.0,540.3 1093.0,541.1 1096.0,541.8 1099.0,541.9 1102.0,543.9 1105.0,545.8 1108.0,544.3 1111.0,544.3 1114.0,542.6 1117.0,542.5 1120.0,541.6 1123.0,543.7 1126.0,544.0 1129.0,546.1 1132.0,546.2 1135.0,546.0 1138.0,544.3 1141.0,545.7 1144.0,546.1 1147.0,546.2 1150.0,545.1 1153.0,546.5 1156.0,546.7 1159.0,546.6 1162.0,546.9 1165.0,545.1 1168.0,545.7 1171.0,546.3 1174.0,545.3 1177.0,545.6 1180.0,545.8 1183.0,545.7 1186.0,544.8 1189.0,546.3 1192.0,548.2 1195.0,545.9 1198.0,546.4 1201.0,545.4 1204.0,544.9 1207.0,546.7 1210.0,545.8 1213.0,544.5 1216.0,545.6 1219.0,546.6 1222.0,546.8 1225.0,548.2 1228.0,546.9 1231.0,546.6 1234.0,547.7 1237.0,546.8 1240.0,547.8 1243.0,547.4 1246.0,547.8 1249.0,546.9 1252.0,547.3 1255.0,547.6 1258.0,548.3 1261.0,547.9 1264.0,545.4 1267.0,546.3 1270.0,548.3 1273.0,547.0 1276.0,548.4 1279.0,548.9 1282.0,550.2 1285.0,550.2 1288.0,549.8 1291.0,549.5 1294.0,549.2 1297.0,550.0 1300.0,548.6 1303.0,549.2 1306.0,550.2 1309.0,550.3 1312.0,550.3 1315.0,549.0 1318.0,549.1 1321.0,548.1 1324.0,549.4 1327.0,550.0 1330.0,550.5 1333.0,551.7 1335.5,550.7" fill="none" stroke="#111" stroke-width="3.1" stroke-linejoin="round" stroke-linecap="round"/>
<rect x="687" y="43.8" width="649" height="519.2" fill="none" stroke="#1a1a1a" stroke-width="4.4" stroke-linejoin="round"/>
<line x1="718.0" y1="563" x2="718.0" y2="555.3" stroke="#1a1a1a" stroke-width="3.6"/>
<line x1="872.8" y1="563" x2="872.8" y2="555.3" stroke="#1a1a1a" stroke-width="3.6"/>
<line x1="1027.5" y1="563" x2="1027.5" y2="555.3" stroke="#1a1a1a" stroke-width="3.6"/>
<line x1="1182.2" y1="563" x2="1182.2" y2="555.3" stroke="#1a1a1a" stroke-width="3.6"/>
<text x="718.0" y="589.3" font-size="23.3" text-anchor="middle" fill="#1e1e1e">200</text>
<text x="872.8" y="589.3" font-size="23.3" text-anchor="middle" fill="#1e1e1e">250</text>
<text x="1027.5" y="589.3" font-size="23.3" text-anchor="middle" fill="#1e1e1e">300</text>
<text x="1182.2" y="589.3" font-size="23.3" text-anchor="middle" fill="#1e1e1e">350</text>
<text x="1337.0" y="589.3" font-size="23.3" text-anchor="middle" fill="#1e1e1e">400</text>
<text transform="translate(668,307) rotate(-90)" font-size="27.4" text-anchor="middle" fill="#1e1e1e">Absorbance (a.u)</text>
<text x="1018.5" y="620" font-size="27" text-anchor="middle" fill="#1e1e1e">&#955; (nm)</text>
<line x1="1030" y1="347.3" x2="1089.5" y2="347.3" stroke="#111" stroke-width="4.4" stroke-linecap="round"/>
<text x="1097.8" y="356.9" font-size="32.5" fill="#111">LSR</text>
</svg></body></html>
